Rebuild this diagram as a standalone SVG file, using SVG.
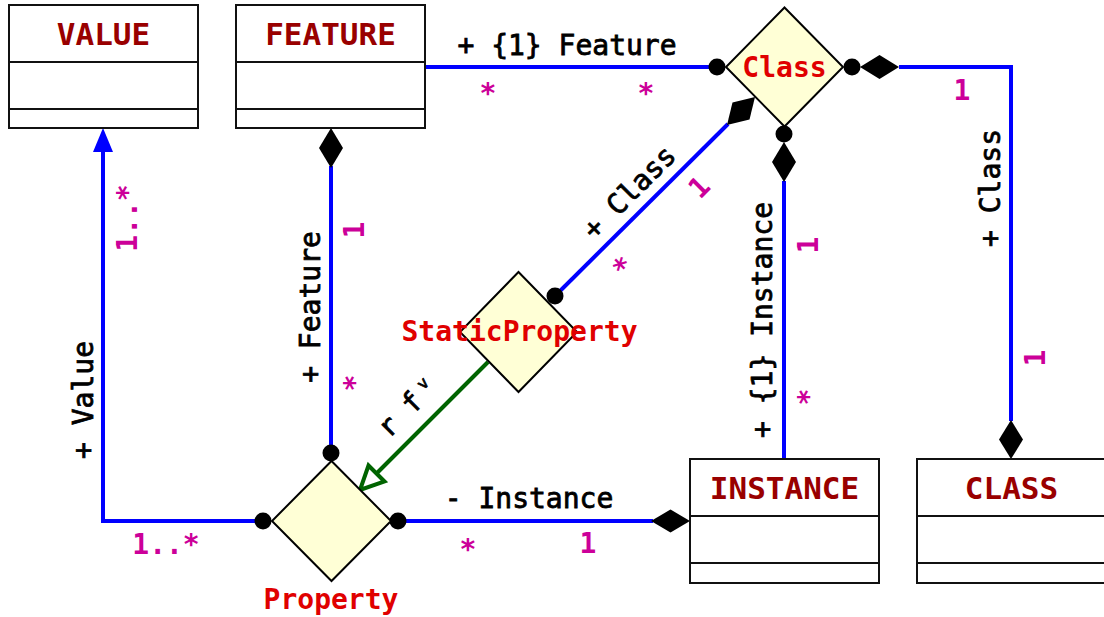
<svg xmlns="http://www.w3.org/2000/svg" width="1104" height="617" viewBox="0 0 1104 617">
<defs>
<style>
.box{fill:#fff;stroke:#111;stroke-width:2}
.div{stroke:#111;stroke-width:2}
.ttl{font-family:"DejaVu Sans Mono","Liberation Mono",monospace;font-weight:bold;font-size:31px;fill:#990000;text-anchor:middle}
.dia{fill:#ffffd6;stroke:#000;stroke-width:2}
.dlbl{font-family:"DejaVu Sans Mono","Liberation Mono",monospace;font-weight:bold;font-size:28px;fill:#e00000;text-anchor:middle}
.ln{fill:none;stroke:#0000ff;stroke-width:4}
.gen{fill:none;stroke:#006400;stroke-width:4}
.dot{fill:#000}
.comp{fill:#000}
.role{font-family:"DejaVu Sans Mono","Liberation Mono",monospace;font-size:28px;fill:#000;stroke:#000;stroke-width:0.8;text-anchor:middle}
.mult{font-family:"DejaVu Sans Mono","Liberation Mono",monospace;font-weight:bold;font-size:28px;fill:#cc0099;text-anchor:middle}
</style>
</defs>
<g id="connectors">
  <!-- FEATURE - Class -->
  <line class="ln" x1="425" y1="67" x2="717" y2="67"/>
  <circle class="dot" cx="717" cy="67" r="8.5"/>
  <text class="role" x="567" y="55">+ {1} Feature</text>
  <text class="mult" x="488" y="103">*</text>
  <text class="mult" x="646" y="103">*</text>

  <!-- Class - CLASS -->
  <polyline class="ln" points="899,67 1011,67 1011,421"/>
  <circle class="dot" cx="852" cy="67" r="8.5"/>
  <polygon class="comp" points="860,67 879.5,55 899,67 879.5,79"/>
  <polygon class="comp" points="1011,420 1023,439.5 1011,459 999,439.5"/>
  <text class="mult" x="962" y="100">1</text>
  <text class="role" transform="translate(1000,188) rotate(-90)">+ Class</text>
  <text class="mult" transform="translate(1045,358) rotate(-90)">1</text>

  <!-- Class - INSTANCE -->
  <line class="ln" x1="784" y1="181" x2="784" y2="459"/>
  <circle class="dot" cx="784" cy="134" r="8.5"/>
  <polygon class="comp" points="784,142 796,162 784,182 772,162"/>
  <text class="role" transform="translate(772,320) rotate(-90)">+ {1} Instance</text>
  <text class="mult" transform="translate(818,245) rotate(-90)">1</text>
  <text class="mult" transform="translate(818,397) rotate(-90)">*</text>

  <!-- Class - StaticProperty -->
  <line class="ln" x1="728" y1="124" x2="555" y2="296"/>
  <polygon class="comp" points="755,97 749.5,119.5 727,125 732.5,102.5"/>
  <circle class="dot" cx="555" cy="296" r="8.5"/>
  <text class="role" transform="translate(636,199) rotate(-45)">+ Class</text>
  <text class="mult" transform="translate(706,194) rotate(-45)">1</text>
  <text class="mult" transform="translate(630,274) rotate(-45)">*</text>

  <!-- StaticProperty - Property (generalization) -->
  <line class="gen" x1="488" y1="362" x2="376" y2="474"/>
  <polygon class="gen" fill="#fff" points="360,490 368.5,465.5 384.5,481.5"/>
  <text class="role" style="text-anchor:start" transform="translate(389,439) rotate(-45)">r f<tspan font-size="16" dx="8" dy="-10">v</tspan></text>

  <!-- FEATURE - Property -->
  <line class="ln" x1="331" y1="166" x2="331" y2="453"/>
  <polygon class="comp" points="331,128 343,148 331,168 319,148"/>
  <circle class="dot" cx="331" cy="453" r="8.5"/>
  <text class="role" transform="translate(320,307) rotate(-90)">+ Feature</text>
  <text class="mult" transform="translate(364,230) rotate(-90)">1</text>
  <text class="mult" transform="translate(364,383) rotate(-90)">*</text>

  <!-- Property - VALUE -->
  <polyline class="ln" points="263,521 103,521 103,150"/>
  <polygon fill="#0000ff" points="103,128 113,152 93,152"/>
  <circle class="dot" cx="263" cy="521" r="8.5"/>
  <text class="role" transform="translate(93,400) rotate(-90)">+ Value</text>
  <text class="mult" transform="translate(137,218) rotate(-90)">1..*</text>
  <text class="mult" x="166" y="554">1..*</text>

  <!-- Property - INSTANCE -->
  <line class="ln" x1="398" y1="521" x2="653" y2="521"/>
  <polygon class="comp" points="651,521 670.5,509.5 690,521 670.5,532.5"/>
  <circle class="dot" cx="398" cy="521" r="8.5"/>
  <text class="role" x="529" y="508">- Instance</text>
  <text class="mult" x="468" y="559">*</text>
  <text class="mult" x="588" y="553">1</text>
</g>

<g id="VALUE">
  <rect class="box" x="9" y="5" width="189" height="123"/>
  <line class="div" x1="9" y1="62" x2="198" y2="62"/>
  <line class="div" x1="9" y1="109" x2="198" y2="109"/>
  <text class="ttl" x="103.5" y="45">VALUE</text>
</g>
<g id="FEATURE">
  <rect class="box" x="236" y="5" width="189" height="123"/>
  <line class="div" x1="236" y1="62" x2="425" y2="62"/>
  <line class="div" x1="236" y1="109" x2="425" y2="109"/>
  <text class="ttl" x="330.5" y="45">FEATURE</text>
</g>
<g id="INSTANCE">
  <rect class="box" x="690" y="459" width="189" height="124"/>
  <line class="div" x1="690" y1="516" x2="879" y2="516"/>
  <line class="div" x1="690" y1="563" x2="879" y2="563"/>
  <text class="ttl" x="784.5" y="499">INSTANCE</text>
</g>
<g id="CLASS">
  <rect class="box" x="917" y="459" width="189" height="124"/>
  <line class="div" x1="917" y1="516" x2="1106" y2="516"/>
  <line class="div" x1="917" y1="563" x2="1106" y2="563"/>
  <text class="ttl" x="1011.5" y="499">CLASS</text>
</g>
<g id="Class">
  <polygon class="dia" points="784.5,7.5 843,67 784.5,126.5 726,67"/>
  <text class="dlbl" x="784.5" y="77">Class</text>
</g>
<g id="StaticProperty">
  <polygon class="dia" points="518.5,272 577,332 518.5,392 460,332"/>
  <text class="dlbl" x="519.5" y="341">StaticProperty</text>
</g>
<g id="Property">
  <polygon class="dia" points="331.5,461 391,521 331.5,581 272,521"/>
  <text class="dlbl" x="331" y="609">Property</text>
</g>
</svg>
